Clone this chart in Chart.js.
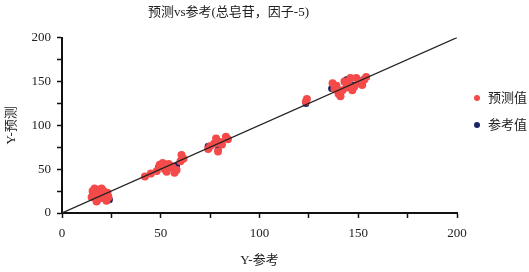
<!DOCTYPE html>
<html>
<head>
<meta charset="utf-8">
<script src="https://cdn.jsdelivr.net/npm/chart.js@4/dist/chart.umd.min.js"></script>
<style>
  body { margin: 0; background: #fff; }
  #wrap { position: relative; width: 529px; height: 272px; }
  #c { position: absolute; left: 0; top: 0; }
  .leg { position: absolute; left: 474px; font: 13px 'Liberation Serif', 'Noto Sans CJK SC', serif; color: #222; }
  .leg span { display: inline-block; width: 6px; height: 6px; border-radius: 50%; margin-right: 8px; vertical-align: 1px; }
</style>
</head>
<body>
<div id="wrap">
  <canvas id="c" width="489" height="272"></canvas>
  <div class="leg" style="top:87px"><span style="background:#f44a4a"></span>预测值</div>
  <div class="leg" style="top:114px"><span style="background:#1c2463"></span>参考值</div>
</div>
<script>
// 预测值 (红点)
const predX = [15, 15.5, 16.5, 17, 18, 18.5, 19.5, 20, 20.5, 21, 22, 22.5, 23, 23.5, 17.5,
  42, 45, 48, 49.5, 51, 52, 53, 54, 56, 57, 58, 60, 60.5, 61.5, 55,
  74, 75, 77, 78, 79, 80, 81, 83, 84,
  123.5, 124,
  137, 138, 139, 140, 141, 142, 143, 144, 145, 146, 147, 148, 149, 150, 151, 152, 153, 154];
const predY = [18, 25, 28, 21, 15, 26, 22, 28, 17, 25, 20, 14, 23, 18, 13,
  41.5, 45, 48, 55, 57, 50, 47, 56, 52, 46, 49, 59, 66, 62, 54,
  73, 76, 79, 85, 70, 81, 78, 87, 84,
  127, 130,
  148, 141, 145, 136, 133, 140, 150, 143, 147, 154, 140, 144, 154, 148, 150, 146, 152, 155];

// 参考值 (蓝点)
const refX = [15.5, 17.5, 23.5, 24, 49, 58, 74, 79, 80, 123.5, 136.5, 144, 147, 152.5];
const refY = [24, 24, 19, 15, 53, 54, 76, 72, 80, 125, 142, 152, 146, 152];

// 对角线
const diagX = [0, 200];
const diagY = [0, 200];

const toPts = (xs, ys) => xs.map((x, i) => ({ x: x, y: ys[i] }));

const FONT = "'Liberation Serif', 'Noto Sans CJK SC', serif";

new Chart(document.getElementById('c'), {
  type: 'scatter',
  data: {
    datasets: [
      {
        type: 'line', label: 'diag', data: toPts(diagX, diagY),
        borderColor: '#222', borderWidth: 1.2, pointRadius: 0, order: 0
      },
      {
        label: '预测值', data: toPts(predX, predY),
        backgroundColor: '#f44a4a', borderWidth: 0, pointRadius: 4, order: 1
      },
      {
        label: '参考值', data: toPts(refX, refY),
        backgroundColor: '#1c2463', borderWidth: 0, pointRadius: 3.5, order: 2
      }
    ]
  },
  options: {
    responsive: false,
    animation: false,
    layout: { padding: { right: 32 } },
    plugins: {
      legend: { display: false },
      tooltip: { enabled: false },
      title: {
        display: true,
        text: '预测vs参考(总皂苷，因子-5)',
        color: '#222',
        font: { family: FONT, size: 13, weight: 'normal' },
        padding: { top: 5, bottom: 17 }
      }
    },
    scales: {
      x: {
        type: 'linear', min: 0, max: 200,
        ticks: {
          stepSize: 25, color: '#222', padding: 8,
          font: { family: FONT, size: 13 },
          callback: v => (v % 50 === 0 ? v : '')
        },
        grid: { drawOnChartArea: false, tickLength: 5, tickColor: '#111', tickWidth: 1.5 },
        border: { color: '#111', width: 2 },
        title: { display: true, text: 'Y-参考', color: '#222', font: { family: FONT, size: 13 }, padding: { top: 12 } },
        afterFit: s => { s.height = 59; }
      },
      y: {
        type: 'linear', min: 0, max: 200,
        ticks: {
          stepSize: 25, color: '#222', padding: 6,
          font: { family: FONT, size: 13 },
          callback: v => (v % 50 === 0 ? v : '')
        },
        grid: { drawOnChartArea: false, tickLength: 5, tickColor: '#111', tickWidth: 1.5 },
        border: { color: '#111', width: 2 },
        title: { display: true, text: 'Y-预测', color: '#222', font: { family: FONT, size: 13 }, padding: { bottom: 4 } },
        afterFit: s => { s.width = 62; }
      }
    }
  }
});
</script>
</body>
</html>
